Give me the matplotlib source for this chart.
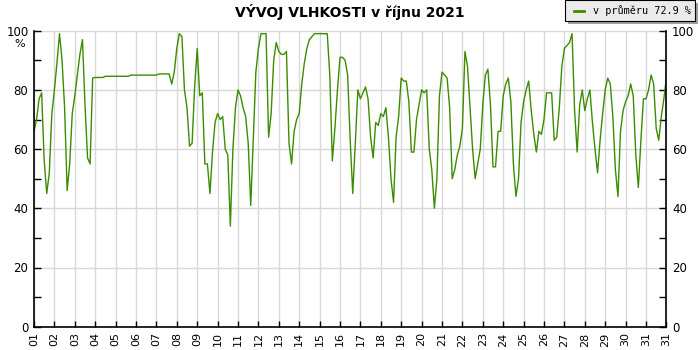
import numpy as np
import matplotlib
matplotlib.use("Agg")
import matplotlib.pyplot as plt
from matplotlib.patches import FancyBboxPatch

# relative humidity, 3-hour readings, one row per day of October 2021
humidity = [
    66, 70, 77, 79, 56, 45, 52, 72,          # 01
    80, 89, 99, 90, 74, 46, 55, 72,          # 02
    78, 85, 92, 97, 75, 57, 55, 84,          # 03
    84.2, 84.2, 84.2, 84.2, 84.6, 84.6, 84.6, 84.6,  # 04
    84.6, 84.6, 84.6, 84.6, 84.6, 84.6, 85, 85,      # 05
    85, 85, 85, 85, 85, 85, 85, 85,          # 06
    85, 85.4, 85.4, 85.4, 85.4, 85.4, 82, 86,  # 07
    94, 99, 98, 80, 74, 61, 62, 81,          # 08
    94, 78, 79, 55, 55, 45, 59, 69,          # 09
    72, 70, 71, 60, 58, 34, 60, 74,          # 10
    80, 78, 74, 71, 62, 41, 64, 86,          # 11
    94, 99, 99, 99, 64, 72, 90, 96,          # 12
    93, 92, 92, 93, 62, 55, 66, 70,          # 13
    72, 82, 89, 94, 97, 98, 99, 99,          # 14
    99, 99, 99, 99, 85, 56, 67, 80,          # 15
    91, 91, 90, 85, 63, 45, 62, 80,          # 16
    77, 79, 81, 77, 64, 57, 69, 68,          # 17
    72, 71, 74, 64, 50, 42, 64, 71,          # 18
    84, 83, 83, 76, 59, 59, 70, 75,          # 19
    80, 79, 80, 60, 53, 40, 50, 78,          # 20
    86, 85, 84, 74, 50, 53, 58, 61,          # 21
    67, 93, 88, 74, 60, 50, 55, 60,          # 22
    75, 85, 87, 75, 54, 54, 66, 66,          # 23
    78, 82, 84, 76, 55, 44, 50, 69,          # 24
    76, 80, 83, 73, 65, 59, 66, 65,          # 25
    70, 79, 79, 79, 63, 64, 74, 88,          # 26
    94, 95, 96, 99, 73, 59, 75, 80,          # 27
    73, 77, 80, 69, 60, 52, 63, 72,          # 28
    80, 84, 82, 71, 53, 44, 66, 73,          # 29
    76, 78, 82, 78, 58, 47, 63, 77,          # 30
    77, 80, 85, 82, 67, 63, 71, 77,          # 31
    84,
]
day_labels = ["%02d" % d for d in range(1, 32)] + ["31"]
title = "VÝVOJ VLHKOSTI v říjnu 2021"
legend_text = "v průměru 72.9 %"
line_color = "#3c8c00"

t = np.arange(len(humidity)) / 8.0

fig = plt.figure(figsize=(7, 3.5), dpi=100)
ax = fig.add_axes([34 / 700, 1 - 326.7 / 350, 632.4 / 700, 296 / 350])

ax.plot(t, humidity, color=line_color, lw=1.0)

ax.set_xlim(0, 31)
ax.set_ylim(0, 100)
ax.set_xticks(range(32))
ax.set_xticklabels(day_labels, rotation=90, fontsize=8)
ax.set_yticks(range(0, 101, 20))
ax.set_yticks(range(10, 100, 20), minor=True)
ax.tick_params(axis="y", which="both", direction="in", length=5, width=1,
               left=True, right=True, labelleft=True, labelright=True,
               labelsize=8.5, pad=4)
ax.tick_params(axis="x", direction="in", length=4, width=1, labelsize=8, pad=4)

ax.grid(True, which="major", color="#d8d8d8", lw=1)
ax.set_axisbelow(True)
ax.spines["top"].set_visible(False)
for s in ["left", "right", "bottom"]:
    ax.spines[s].set_linewidth(1.2)

fig.text(20 / 700, 1 - 44 / 350, "%", fontsize=8, ha="center", va="center")
fig.text(350 / 700, 1 - 12 / 350, title, fontsize=10, fontweight="bold",
         ha="center", va="center")

# legend box with shadow
shadow = FancyBboxPatch((568 / 700, 1 - 24 / 350), 130 / 700, 21 / 350,
                        boxstyle="square,pad=0", transform=fig.transFigure,
                        facecolor="#a0a0a0", edgecolor="none")
box = FancyBboxPatch((565 / 700, 1 - 21 / 350), 130 / 700, 21 / 350,
                     boxstyle="square,pad=0", transform=fig.transFigure,
                     facecolor="#ebebeb", edgecolor="black", lw=0.8)
fig.add_artist(shadow)
fig.add_artist(box)
fig.add_artist(plt.Line2D([574 / 700, 584 / 700], [1 - 11 / 350, 1 - 11 / 350],
                          transform=fig.transFigure, color=line_color, lw=2))
fig.text(593 / 700, 1 - 11 / 350, legend_text, fontsize=7.3,
         family="DejaVu Sans Mono", ha="left", va="center")

fig.savefig("out.png", dpi=100)
